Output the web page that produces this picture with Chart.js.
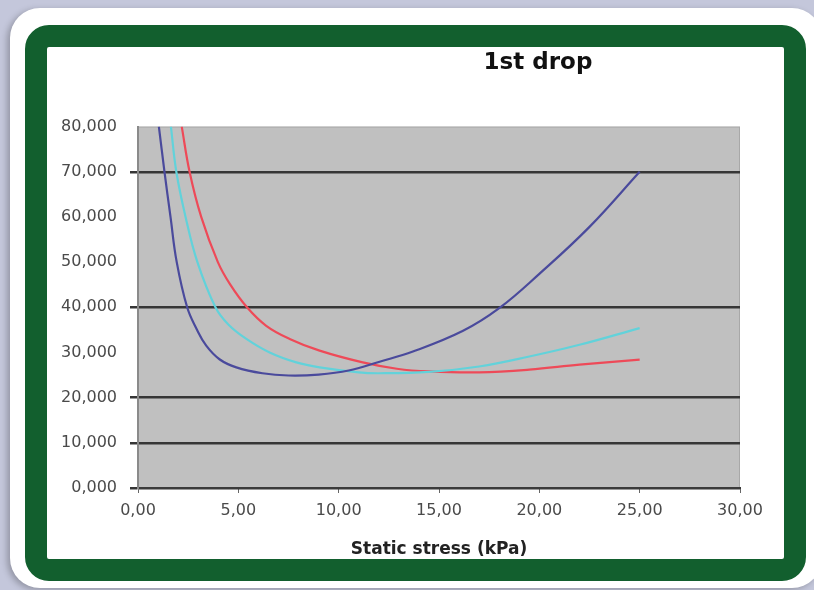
<!DOCTYPE html>
<html lang="en">
<head>
  <meta charset="UTF-8">
  <title>1st drop</title>
  <style>
    body { margin: 0; width: 814px; height: 590px; overflow: hidden; position: relative; background: #c4c7db; }
    .card { position: absolute; left: 10px; top: 8px; width: 812px; height: 580px; background: #fff; border-radius: 30px; box-shadow: -3px 2px 6px rgba(0,0,0,0.25); }
    .frame { position: absolute; left: 25px; top: 25px; width: 737px; height: 512px; border: 22px solid #125f2e; border-radius: 24px; background: #fff; }
    .chartbox { position: absolute; left: 0; top: 0; width: 1076px; height: 590px; }
  </style>
</head>
<body>
  <div class="card"></div>
  <div class="frame"></div>
  <div class="chartbox"><canvas id="myChart"></canvas></div>

  <script src="https://cdn.jsdelivr.net/npm/chart.js"></script>
  <script>
    // values (x in kPa, y in thousands)
    const blueX = [1.04, 1.32, 1.62, 1.93, 2.45, 2.92, 3.4, 4.06, 4.9, 6.2, 7.5, 9.0, 10.5, 12.0, 13.7, 16.2, 18.0, 20.0, 22.5, 25.0];
    const blueY = [80, 70, 60, 50, 40, 35.2, 31.5, 28.5, 26.7, 25.4, 24.9, 25.1, 26.0, 27.9, 30.2, 34.8, 39.8, 47.4, 57.8, 70.0];

    const cyanX = [1.64, 1.91, 2.37, 2.96, 3.86, 4.5, 5.4, 6.56, 7.89, 9.05, 11.0, 12.0, 14.5, 17.0, 19.5, 22.0, 25.0];
    const cyanY = [80, 70, 60, 50, 40, 36.2, 33.0, 30.0, 27.8, 26.7, 25.6, 25.4, 25.7, 26.9, 29.1, 31.7, 35.4];

    const redX = [2.18, 2.57, 3.15, 3.98, 4.6, 5.43, 6.39, 7.56, 9.05, 11.2, 12.9, 14.5, 17.0, 19.5, 22.0, 25.0];
    const redY = [80, 70, 60, 50, 45.0, 40, 35.9, 33.0, 30.4, 27.8, 26.4, 25.8, 25.6, 26.2, 27.3, 28.4];

    // gridlines that survive in the picture
    const gridShown = [0, 10, 20, 40, 70];

    const toPoints = (xs, ys) => xs.map((x, i) => ({ x: x, y: ys[i] }));
    const comma = (v, d) => v.toFixed(d).replace('.', ',');

    // gray plot area
    const plotBack = {
      id: 'plotBack',
      beforeDraw(chart) {
        const { ctx, chartArea: a } = chart;
        ctx.save();
        ctx.fillStyle = '#c0c0c0';
        ctx.fillRect(a.left, a.top, a.right - a.left, a.bottom - a.top);
        ctx.strokeStyle = '#a8a8a8';
        ctx.lineWidth = 1;
        ctx.strokeRect(a.left + 0.5, a.top + 0.5, a.right - a.left - 1, a.bottom - a.top - 1);
        ctx.restore();
      }
    };

    const line = (data, color) => ({
      data: data,
      borderColor: color,
      borderWidth: 2.2,
      pointRadius: 0,
      fill: false,
      tension: 0.4
    });

    const ctx = document.getElementById('myChart');

    new Chart(ctx, {
      type: 'line',
      data: {
        datasets: [
          line(toPoints(blueX, blueY), '#4a4a9c'),
          line(toPoints(cyanX, cyanY), '#62d2da'),
          line(toPoints(redX, redY), '#ee4a58')
        ]
      },
      plugins: [plotBack],
      options: {
        responsive: true,
        maintainAspectRatio: false,
        animation: false,
        layout: { padding: { top: 30, left: 0, right: 0, bottom: 0 } },
        plugins: {
          legend: { display: false },
          tooltip: { enabled: false },
          title: {
            display: true,
            text: '1st drop',
            color: '#111',
            font: { family: 'DejaVu Sans', size: 23, weight: 'bold' },
            padding: { top: 19, bottom: 50 }
          }
        },
        scales: {
          x: {
            type: 'linear',
            min: 0,
            max: 30,
            ticks: {
              stepSize: 5,
              padding: 8,
              color: '#4a4a4a',
              font: { family: 'DejaVu Sans', size: 16 },
              callback: v => comma(v, 2)
            },
            grid: { drawOnChartArea: false, tickLength: 5, color: '#666' },
            border: { display: true, color: '#3b3b3b', width: 2 },
            title: {
              display: true,
              text: 'Static stress (kPa)',
              color: '#222',
              font: { family: 'DejaVu Sans', size: 17, weight: 'bold' },
              padding: { top: 0, bottom: 30 }
            },
            afterFit: s => { s.height = 102; }
          },
          y: {
            min: 0,
            max: 80,
            ticks: {
              stepSize: 10,
              padding: 13,
              color: '#4a4a4a',
              font: { family: 'DejaVu Sans', size: 16 },
              callback: v => comma(v, 3)
            },
            grid: {
              color: c => gridShown.includes(c.tick ? c.tick.value : -1) ? '#363636' : 'rgba(0,0,0,0)',
              lineWidth: 2.5,
              tickLength: 8
            },
            border: { display: true, color: '#8a8a8a', width: 2 },
            afterFit: s => { s.width = 138; }
          },
          pad: {
            type: 'linear',
            position: 'right',
            display: true,
            ticks: { display: false },
            grid: { display: false },
            border: { display: false },
            afterFit: s => { s.width = 336; }
          }
        }
      }
    });
  </script>
</body>
</html>
